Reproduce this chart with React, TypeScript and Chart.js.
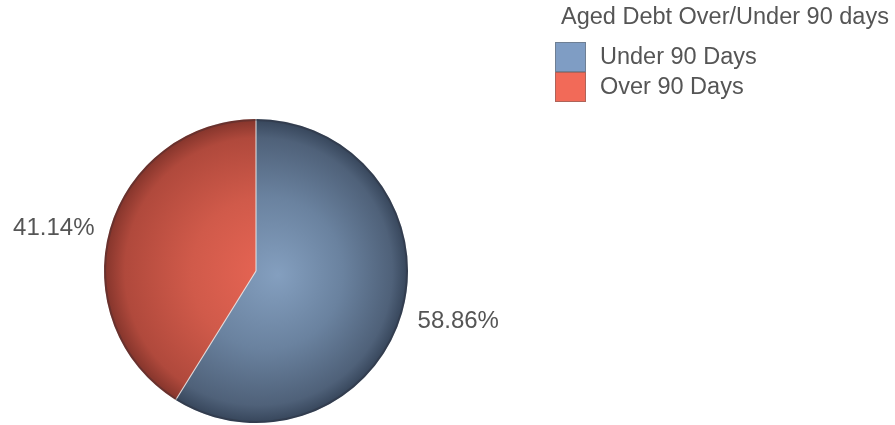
import React, { useEffect, useRef } from "react";
import { Chart, registerables } from "chart.js";

Chart.register(...registerables);

const legendTitle = "Aged Debt Over/Under 90 days";
const categories = ["Under 90 Days", "Over 90 Days"];
const values = [58.86, 41.14];
const swatchColors = ["#7f9dc4", "#f26a58"];
const gradientStops = [
  ["#849fbf", "#6a829f", "#4f6179", "#36455a"],
  ["#ea6655", "#d05a4a", "#b0493c", "#83342b"],
];

const FONT = "Arial, 'Liberation Sans', sans-serif";
const TEXT = "#555555";

const overlayPlugin = {
  id: "overlay",
  afterDatasetsDraw(chart: any) {
    const ctx = chart.ctx;
    const meta = chart.getDatasetMeta(0);
    const total = values.reduce((a, b) => a + b, 0);
    ctx.save();
    meta.data.forEach((arc: any) => {
      const { x, y, startAngle, outerRadius } = arc.getProps(["x", "y", "startAngle", "outerRadius"], true);
      ctx.beginPath();
      ctx.moveTo(x, y);
      ctx.lineTo(x + Math.cos(startAngle) * outerRadius, y + Math.sin(startAngle) * outerRadius);
      ctx.strokeStyle = "rgba(235,235,235,0.8)";
      ctx.lineWidth = 1.2;
      ctx.stroke();
    });
    const a0: any = meta.data[0];
    ctx.beginPath();
    ctx.arc(a0.x, a0.y, a0.outerRadius - 1, 0, Math.PI * 2);
    ctx.strokeStyle = "rgba(40,40,50,0.3)";
    ctx.lineWidth = 2;
    ctx.stroke();
    ctx.font = `24px ${FONT}`;
    ctx.fillStyle = TEXT;
    ctx.textBaseline = "middle";
    meta.data.forEach((arc: any, i: number) => {
      const { x, y, startAngle, endAngle, outerRadius } = arc.getProps(
        ["x", "y", "startAngle", "endAngle", "outerRadius"],
        true
      );
      const mid = (startAngle + endAngle) / 2;
      const r = outerRadius + 16;
      const lx = x + Math.cos(mid) * r;
      const ly = y + Math.sin(mid) * r + 4;
      ctx.textAlign = Math.cos(mid) >= 0 ? "left" : "right";
      ctx.fillText(((values[i] / total) * 100).toFixed(2) + "%", lx, ly);
    });
    ctx.restore();
  },
  afterDraw(chart: any) {
    const ctx = chart.ctx;
    ctx.save();
    ctx.font = `23.5px ${FONT}`;
    ctx.fillStyle = TEXT;
    ctx.textAlign = "left";
    ctx.textBaseline = "middle";
    ctx.fillText(legendTitle, 561, 18);
    categories.forEach((c, i) => {
      const top = 42 + i * 30;
      ctx.fillStyle = swatchColors[i];
      ctx.fillRect(555, top, 31, 30);
      ctx.strokeStyle = "rgba(90,90,90,0.45)";
      ctx.lineWidth = 1;
      ctx.strokeRect(555.5, top + 0.5, 30, 29);
      ctx.fillStyle = TEXT;
      ctx.font = `23.5px ${FONT}`;
      ctx.fillText(c, 600, top + 16);
    });
    ctx.restore();
  },
};

export default function App() {
  const ref = useRef<HTMLCanvasElement>(null);
  useEffect(() => {
    if (!ref.current) return;
    const chart = new Chart(ref.current, {
      type: "pie",
      data: {
        labels: categories,
        datasets: [
          {
            data: values,
            borderWidth: 0,
            backgroundColor: (c: any) => {
              const ch = c.chart;
              const area = ch.chartArea;
              const i = c.dataIndex;
              if (!area) return swatchColors[i];
              const cx = (area.left + area.right) / 2;
              const cy = (area.top + area.bottom) / 2;
              const r = Math.min(area.right - area.left, area.bottom - area.top) / 2;
              const g = ch.ctx.createRadialGradient(cx + 22, cy + 4, 0, cx, cy, r);
              const s = gradientStops[i];
              g.addColorStop(0, s[0]);
              g.addColorStop(0.5, s[1]);
              g.addColorStop(0.88, s[2]);
              g.addColorStop(1, s[3]);
              return g;
            },
          },
        ],
      },
      options: {
        responsive: false,
        devicePixelRatio: 1,
        animation: false,
        layout: { padding: { left: 104, top: 119, right: 487, bottom: 2 } },
        plugins: { legend: { display: false }, tooltip: { enabled: false } },
      },
      plugins: [overlayPlugin],
    });
    return () => chart.destroy();
  }, []);
  return (
    <div style={{ position: "absolute", left: 0, top: 0, width: 895, height: 425, background: "#fff" }}>
      <canvas ref={ref} width={895} height={425} />
    </div>
  );
}
